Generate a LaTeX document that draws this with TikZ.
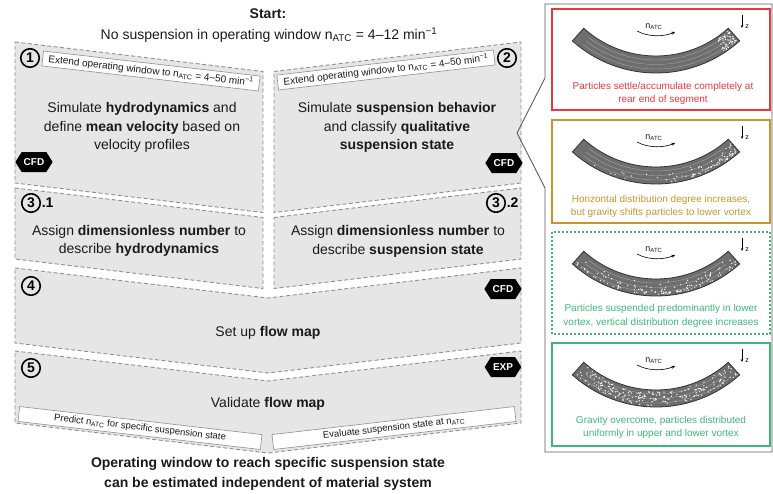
\documentclass[tikz,border=0pt]{standalone}
\usepackage{fontspec}
\setmainfont{Liberation Sans}
\usetikzlibrary{shapes.symbols, arrows.meta}

\definecolor{boxfill}{HTML}{E6E6E6}
\definecolor{boxline}{HTML}{8F8F8F}
\definecolor{txt}{HTML}{1A1A1A}
\definecolor{redst}{HTML}{E8383D}
\definecolor{goldst}{HTML}{C9952C}
\definecolor{greenst}{HTML}{3CB878}
\definecolor{bandfill}{HTML}{6E6E6E}
\definecolor{bandline}{HTML}{333333}
\definecolor{stream}{HTML}{A8A8A8}
\definecolor{panelline}{HTML}{5A5A5A}

% annular segment of the channel, shifted down by #1
\newcommand\channelseg[1]{%
  \begin{scope}[shift={(0,#1)}]
    \path[fill=bandfill, draw=bandline, line width=0.8pt]
      plot[domain=48:132, samples=40] ({656+125*cos(\x)},{-52+125*sin(\x)})
      -- plot[domain=132:48, samples=40] ({656+108*cos(\x)},{-52+108*sin(\x)})
      -- cycle;
    \foreach \r in {112,116.5,121}
      \draw[stream, line width=0.35pt]
        plot[domain=53:127, samples=30] ({656+\r*cos(\x)},{-52+\r*sin(\x)});
    \node[font=\fontsize{9}{9}\selectfont, text=txt] at (654,27) {n\textsubscript{ATC}};
    \draw[-{Stealth[length=3.5pt,width=3pt]}, line width=0.6pt]
      (637,31) .. controls (648,37) and (663,37) .. (675,32);
    \draw[-{Stealth[length=3pt,width=2.5pt]}, line width=0.5pt] (742,15) -- (742,28);
    \node[font=\fontsize{7}{7}\selectfont] at (747,27) {z};
  \end{scope}}

% white particles: #1 y offset, #2 count, #3 angle expr, #4 radius expr
\newcommand\particles[4]{%
  \begin{scope}[shift={(0,#1)}]
    \foreach \i in {1,...,#2}{%
      \pgfmathsetmacro\pa{#3}%
      \pgfmathsetmacro\pr{#4}%
      \fill[white] ({656+\pr*cos(\pa)},{-52+\pr*sin(\pa)}) circle[radius=0.7pt];}
  \end{scope}}

\begin{document}
\begin{tikzpicture}[x=1pt, y=-1pt,
  stepbg/.style={fill=boxfill, draw=boxline, line width=0.9pt, dash pattern=on 4pt off 2.5pt},
  numcirc/.style={circle, draw=black, line width=1.6pt, minimum size=18.5pt, inner sep=0pt,
    font=\bfseries\fontsize{14}{14}\selectfont},
  badge/.style={signal, signal to=east and west, fill=black, text=white,
    font=\bfseries\fontsize{10}{10}\selectfont, minimum height=20pt, minimum width=33pt,
    inner xsep=2pt, signal pointer angle=115},
  tag/.style={draw=boxline, line width=0.6pt, fill=white, minimum height=15pt, inner sep=0pt,
    font=\fontsize{10}{10}\selectfont, text=txt},
  maintxt/.style={align=center, font=\fontsize{14}{18.5}\selectfont, text=txt},
  paneltxt/.style={align=center, font=\fontsize{10}{13.5}\selectfont},
  statebox/.style={line width=2.2pt}
]
\useasboundingbox (0,0) rectangle (773,493);

% ---- process steps ----
\path[stepbg] (15,42) -- (263,71.5) -- (263,212.5) -- (15,183) -- cycle;
\path[stepbg] (274,71.5) -- (521,42) -- (521,183) -- (274,212.5) -- cycle;
\path[stepbg] (15,188) -- (263,217.5) -- (263,288.5) -- (15,259) -- cycle;
\path[stepbg] (274,217.5) -- (521,188) -- (521,259) -- (274,288.5) -- cycle;
\path[stepbg] (15,268) -- (268,298) -- (521,268) -- (521,343) -- (268,373) -- (15,343) -- cycle;
\path[stepbg] (15,351) -- (268,381) -- (521,351) -- (521,423) -- (268,453) -- (15,423) -- cycle;

% ---- headline ----
\node[font=\bfseries\fontsize{14}{14}\selectfont, text=txt] (start) at (268,14) {Start:};
\node[font=\fontsize{14}{14}\selectfont, text=txt] (cond) at (269,35)
  {No suspension in operating window n\textsubscript{ATC} = 4–12 min\textsuperscript{−1}};

% ---- step 1 ----
\node[numcirc] (n1) at (30,58) {1};
\node[tag, minimum width=218pt, rotate=-6.6] (t1) at (151,71)
  {Extend operating window to n\textsubscript{ATC} = 4–50 min\textsuperscript{−1}};
\node[maintxt] (s1) at (142,127.5)
  {Simulate \textbf{hydrodynamics} and\\define \textbf{mean velocity} based on\\velocity profiles};
\node[badge] (c1) at (34,162) {CFD};

% ---- step 2 ----
\node[numcirc] (n2) at (507,58) {2};
\node[tag, minimum width=218pt, rotate=6.6] (t2) at (386,70)
  {Extend operating window to n\textsubscript{ATC} = 4–50 min\textsuperscript{−1}};
\node[maintxt] (s2) at (397,127.5)
  {Simulate \textbf{suspension behavior}\\and classify \textbf{qualitative}\\\textbf{suspension state}};
\node[badge] (c2) at (504,163) {CFD};

% ---- step 3.1 / 3.2 ----
\node[numcirc] (n31) at (31,203) {3};
\node[anchor=base west, inner sep=0pt, font=\bfseries\fontsize{14}{14}\selectfont]
  at ([xshift=0.5pt]n31.base east) {.1};
\node[maintxt] (s31) at (139,241)
  {Assign \textbf{dimensionless number} to\\describe \textbf{hydrodynamics}};
\node[numcirc] (n32) at (496,203) {3};
\node[anchor=base west, inner sep=0pt, font=\bfseries\fontsize{14}{14}\selectfont]
  at ([xshift=0.5pt]n32.base east) {.2};
\node[maintxt] (s32) at (398,241.5)
  {Assign \textbf{dimensionless number} to\\describe \textbf{suspension state}};

% ---- step 4 ----
\node[numcirc] (n4) at (31,286) {4};
\node[badge] (c4) at (503,289) {CFD};
\node[maintxt] (s4) at (268,333) {Set up \textbf{flow map}};

% ---- step 5 ----
\node[numcirc] (n5) at (31,368) {5};
\node[badge] (e5) at (503,367) {EXP};
\node[maintxt] (s5) at (268,404) {Validate \textbf{flow map}};
\node[tag, minimum width=244pt, rotate=-6.6, font=\fontsize{9.5}{9.5}\selectfont] (t5a) at (140,428)
  {Predict n\textsubscript{ATC} for specific suspension state};
\node[tag, minimum width=244pt, rotate=6.6, font=\fontsize{9.5}{9.5}\selectfont] (t5b) at (394,428)
  {Evaluate suspension state at n\textsubscript{ATC}};

% ---- outcome ----
\node[maintxt, font=\bfseries\fontsize{14}{20}\selectfont] (res) at (268,474)
  {Operating window to reach specific suspension state\\can be estimated independent of material system};

% ---- callout with suspension states ----
\draw[panelline, line width=0.9pt]
  (545,4) -- (772,4) -- (772,452) -- (545,452) -- (545,188) -- (517,133) -- (545,78) -- cycle;

\draw[redst, statebox] (552,9) rectangle (770,110);
\draw[goldst, statebox] (552,120) rectangle (770,223);
\draw[greenst, line width=2pt, dash pattern=on 2pt off 2pt] (552,232) rectangle (770,334);
\draw[greenst, statebox] (552,343) rectangle (770,446);

\channelseg{0}
\channelseg{111}
\channelseg{223}
\channelseg{334}

\pgfmathsetseed{7}
\particles{0}{55}{48.8+8*rnd}{109.5+14*rnd}
\particles{111}{80}{48.8+82*rnd*rnd}{123.5-13*rnd*rnd}
\particles{223}{125}{48.8+82*rnd}{123.5-14*rnd*rnd}
\particles{334}{210}{48.8+82*rnd}{109.5+14*rnd}

\node[paneltxt, text=redst] (p1) at (663,93.5)
  {Particles settle/accumulate completely at\\rear end of segment};
\node[paneltxt, text=goldst] (p2) at (661,206.5)
  {Horizontal distribution degree increases,\\but gravity shifts particles to lower vortex};
\node[paneltxt, text=greenst] (p3) at (661,316)
  {Particles suspended predominantly in lower\\vortex, vertical distribution degree increases};
\node[paneltxt, text=greenst] (p4) at (661,427.5)
  {Gravity overcome, particles distributed\\uniformly in upper and lower vortex};
\end{tikzpicture}
\end{document}
